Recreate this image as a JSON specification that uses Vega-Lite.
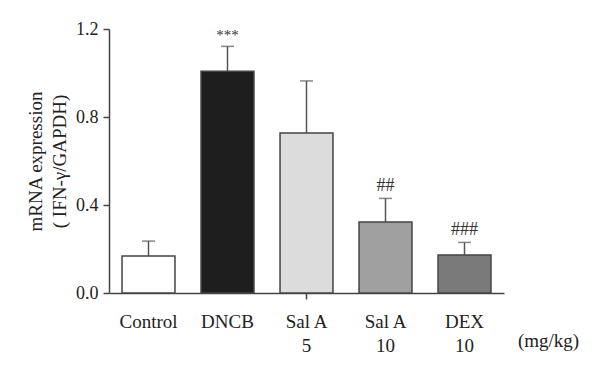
{
  "$schema": "https://vega.github.io/schema/vega-lite/v6.json",
  "width": 395,
  "height": 264,
  "autosize": {"type": "none"},
  "padding": {"left": 109, "top": 29, "right": 96, "bottom": 80},
  "background": "white",
  "config": {
    "view": {"stroke": null},
    "font": "Liberation Serif"
  },
  "data": {
    "values": [
      {"group": "Control", "mean": 0.168, "upper": 0.236, "sig": "", "color": "#ffffff"},
      {"group": "DNCB", "mean": 1.008, "upper": 1.121, "sig": "***", "color": "#1e1e1e"},
      {"group": "Sal A|5", "mean": 0.727, "upper": 0.964, "sig": "", "color": "#dcdcdc"},
      {"group": "Sal A|10", "mean": 0.323, "upper": 0.430, "sig": "##", "color": "#a0a0a0"},
      {"group": "DEX|10", "mean": 0.173, "upper": 0.230, "sig": "###", "color": "#7a7a7a"}
    ]
  },
  "encoding": {
    "x": {
      "field": "group",
      "type": "nominal",
      "sort": null,
      "scale": {"paddingInner": 0.33, "paddingOuter": 0.165},
      "axis": {
        "title": null,
        "labelAngle": 0,
        "labelExpr": "split(datum.label, '|')",
        "labelFont": "Liberation Serif",
        "labelFontSize": 19,
        "labelColor": "#222",
        "labelPadding": 13,
        "labelLineHeight": 24,
        "labelBaseline": "top",
        "domainColor": "#444",
        "domainWidth": 1.5,
        "tickColor": {"condition": {"test": "datum.value === 'Sal A|5'", "value": "#444"}, "value": "transparent"},
        "tickSize": 6,
        "tickWidth": 1.5
      }
    }
  },
  "layer": [
    {
      "mark": {"type": "rule", "color": "#555", "strokeWidth": 1.5},
      "encoding": {
        "y": {"field": "mean", "type": "quantitative"},
        "y2": {"field": "upper"}
      }
    },
    {
      "mark": {"type": "tick", "color": "#555", "thickness": 1.5, "size": 13, "orient": "horizontal"},
      "encoding": {
        "y": {"field": "upper", "type": "quantitative"}
      }
    },
    {
      "mark": {"type": "bar", "stroke": "#444", "strokeWidth": 1.5},
      "encoding": {
        "y": {
          "field": "mean",
          "type": "quantitative",
          "scale": {"domain": [0, 1.2], "nice": false},
          "axis": {
            "values": [0, 0.4, 0.8, 1.2],
            "format": ".1f",
            "grid": false,
            "title": ["mRNA expression", "( IFN-γ/GAPDH)"],
            "titleFont": "Liberation Serif",
            "titleFontSize": 19,
            "titleFontWeight": "normal",
            "titleColor": "#222",
            "titlePadding": 6,
            "titleLineHeight": 24,
            "labelFont": "Liberation Serif",
            "labelFontSize": 18,
            "labelColor": "#222",
            "labelPadding": 5,
            "domainColor": "#444",
            "domainWidth": 1.5,
            "tickColor": "#444",
            "tickWidth": 1.5,
            "tickSize": 6
          }
        },
        "fill": {"field": "color", "type": "nominal", "scale": null}
      }
    },
    {
      "mark": {"type": "text", "baseline": "bottom", "dy": -3, "color": "#333", "font": "Liberation Serif"},
      "encoding": {
        "y": {"field": "upper", "type": "quantitative"},
        "text": {"field": "sig"},
        "size": {"condition": {"test": "datum.sig === '***'", "value": 15}, "value": 18}
      }
    },
    {
      "data": {"values": [{"unit": "(mg/kg)"}]},
      "mark": {"type": "text", "baseline": "alphabetic", "align": "center", "dx": 84, "dy": 54, "fontSize": 19, "color": "#222", "font": "Liberation Serif"},
      "encoding": {
        "x": {"datum": "DEX|10"},
        "y": {"datum": 0},
        "text": {"field": "unit"}
      }
    }
  ]
}
